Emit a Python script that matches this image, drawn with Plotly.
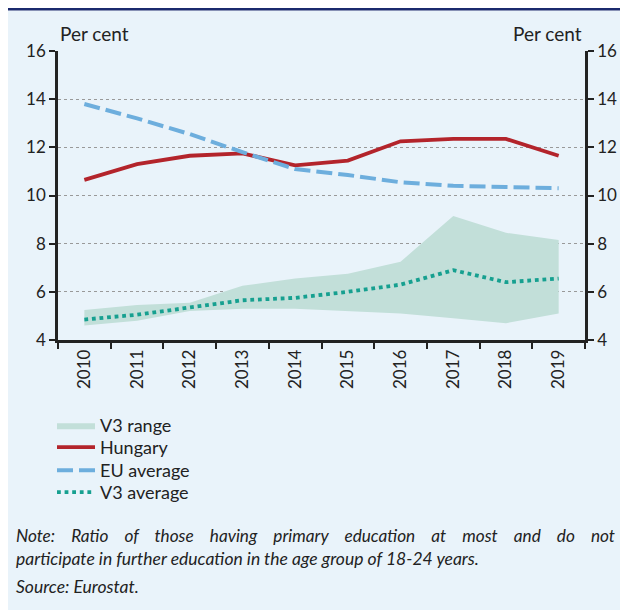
import plotly.graph_objects as go

years = ["2010", "2011", "2012", "2013", "2014", "2015", "2016", "2017", "2018", "2019"]
hungary = [10.65, 11.3, 11.65, 11.75, 11.25, 11.45, 12.25, 12.35, 12.35, 11.65]
eu_avg = [13.8, 13.2, 12.55, 11.8, 11.1, 10.85, 10.55, 10.4, 10.35, 10.3]
v3_avg = [4.85, 5.05, 5.35, 5.65, 5.75, 6.0, 6.3, 6.9, 6.4, 6.55]
v3_low = [4.6, 4.8, 5.2, 5.3, 5.3, 5.2, 5.1, 4.9, 4.7, 5.1]
v3_high = [5.25, 5.45, 5.55, 6.25, 6.55, 6.75, 7.25, 9.15, 8.45, 8.15]

note_words = "Note: Ratio of those having primary education at most and do not".split()
note_line2 = "participate in further education in the age group of 18-24 years."
source = "Source: Eurostat."

FONT = "Lato"
BG = "#E9F3FA"
INK = "#222222"

# page body has an 8px margin, so figure coords = page coords - 8
OFF = 8
W, H = 628, 610
# plot area in page px: x 58..585, y 51..340
L, R, T, B = 58 - OFF, W - (585 - OFF), 51 - OFF, H - (340 - OFF)
PW, PH = W - L - R, H - T - B


def px(x):
    return (x - OFF - L) / PW


def py(y):
    return (H - B - (y - OFF)) / PH


fig = go.Figure()
fig.add_trace(go.Scatter(x=years, y=v3_low, mode="lines", line=dict(width=0),
                         showlegend=False, hoverinfo="skip"))
fig.add_trace(go.Scatter(x=years, y=v3_high, mode="lines", line=dict(width=0),
                         fill="tonexty", fillcolor="#C2DFD9", name="V3 range",
                         legend="legend"))
fig.add_trace(go.Scatter(x=years, y=hungary, mode="lines", name="Hungary",
                         line=dict(color="#B3242B", width=3.8), legend="legend2"))
fig.add_trace(go.Scatter(x=years, y=eu_avg, mode="lines", name="EU average",
                         line=dict(color="#6DAEDD", width=4, dash="16px,6px"),
                         legend="legend3"))
fig.add_trace(go.Scatter(x=years, y=v3_avg, mode="lines", name="V3 average",
                         line=dict(color="#16A090", width=3.8, dash="dot"),
                         legend="legend4"))
# invisible copy to switch the right axis on
fig.add_trace(go.Scatter(x=years, y=v3_avg, yaxis="y2", mode="lines",
                         line=dict(width=0), showlegend=False, hoverinfo="skip"))

# background panel and navy top rule
fig.add_shape(type="rect", xref="paper", yref="paper", layer="below",
              x0=px(0), x1=px(650), y0=py(10.5), y1=py(640),
              fillcolor=BG, line=dict(width=0))
fig.add_shape(type="line", xref="paper", yref="paper",
              x0=px(0), x1=px(650), y0=py(9.3), y1=py(9.3),
              line=dict(color="#1B2A6E", width=2.6))

tick_font = dict(family=FONT, size=17, color=INK)
yax = dict(range=[4, 16], dtick=2, ticks="outside", ticklen=6, tickwidth=2,
           tickcolor=INK, showline=True, linewidth=2.5, linecolor=INK,
           tickfont=tick_font, zeroline=False, fixedrange=True)


def legend_at(top):
    return dict(x=px(52), y=py(top), xanchor="left", yanchor="top",
                bgcolor="rgba(0,0,0,0)", font=dict(size=18), itemwidth=38)


fig.update_layout(
    width=W, height=H,
    margin=dict(l=L, r=R, t=T, b=B),
    paper_bgcolor="white",
    plot_bgcolor="rgba(0,0,0,0)",
    font=dict(family=FONT, size=18, color=INK),
    xaxis=dict(type="category", range=[-0.5, 9.5], tickson="boundaries",
               ticks="outside", ticklen=6, tickwidth=2, tickcolor=INK,
               showline=True, linewidth=2.5, linecolor=INK, tickangle=-90,
               tickfont=tick_font, showgrid=False, fixedrange=True),
    yaxis=dict(**yax, showgrid=True, gridcolor="#999999", gridwidth=1,
               griddash="dot"),
    yaxis2=dict(**yax, overlaying="y", side="right", showgrid=False),
    legend=legend_at(407),
    legend2=legend_at(429),
    legend3=legend_at(452),
    legend4=legend_at(474),
    showlegend=True,
)

fig.add_annotation(text="Per cent", xref="paper", yref="paper", x=px(58),
                   y=py(34), xanchor="left", yanchor="middle", showarrow=False,
                   font=dict(size=19))
fig.add_annotation(text="Per cent", xref="paper", yref="paper", x=px(584),
                   y=py(34), xanchor="right", yanchor="middle", showarrow=False,
                   font=dict(size=19))

# first note line is justified in the original: widen the word gaps
note_line1 = ("&nbsp;" * 3 + " ").join(note_words)
for line, ypos, size in zip([note_line1, note_line2, source], [535, 558, 586],
                            [17.2, 17.5, 17.5]):
    fig.add_annotation(text="<i>" + line + "</i>", xref="paper", yref="paper",
                       x=px(14), y=py(ypos), xanchor="left", yanchor="middle",
                       showarrow=False, font=dict(size=size))

fig.write_html("out.html")
